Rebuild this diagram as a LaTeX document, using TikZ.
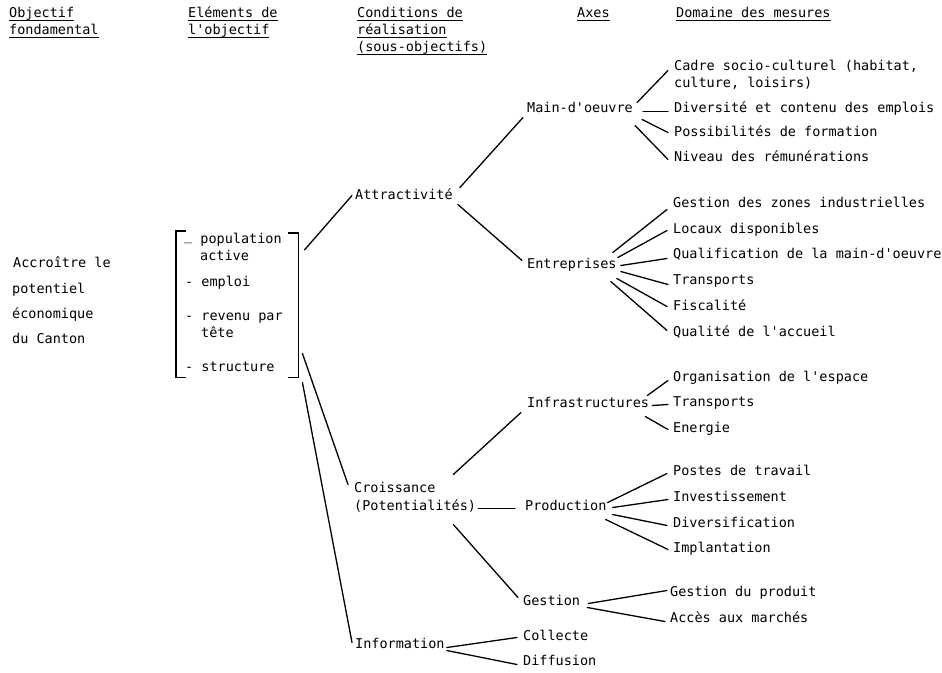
\documentclass[tikz,border=0pt]{standalone}
\usepackage{fontspec}
\setmonofont{DejaVu Sans Mono}
\usetikzlibrary{calc}
\newcommand{\ulx}[1]{\setbox0\hbox{#1}\rlap{\rule[-3.5pt]{\wd0}{1pt}}\box0}
\begin{document}
\begin{tikzpicture}[x=1pt,y=-1pt,
  txt/.style={anchor=mid west, inner sep=0pt, yshift=-2.5pt, font=\fontsize{13.5}{16}\ttfamily},
  ln/.style={line width=1.3pt, line cap=round},
  brk/.style={line width=1.3pt}]
\useasboundingbox (0,0) rectangle (942,672);
% headers
\node[txt] (h1) at (9,13) {\ulx{Objectif}};
\node[txt] (h1b) at (9,30) {\ulx{fondamental}};
\node[txt] (h2) at (188,13) {\ulx{Eléments de}};
\node[txt] (h2b) at (188,30) {\ulx{l'objectif}};
\node[txt] (h3) at (357,13) {\ulx{Conditions de}};
\node[txt] (h3b) at (357,30) {\ulx{réalisation}};
\node[txt] (h3c) at (357,47) {\ulx{(sous-objectifs)}};
\node[txt] (h4) at (577,13) {\ulx{Axes}};
\node[txt] (h5) at (676,13) {\ulx{Domaine des mesures}};
% left
\node[txt] (o1) at (13,263) {Accroître le};
\node[txt] (o2) at (12,289) {potentiel};
\node[txt] (o3) at (12,314) {économique};
\node[txt] (o4) at (12,339) {du Canton};
% bracket
\node[anchor=north west, inner sep=0pt, minimum width=122pt, minimum height=146pt] (elem) at (176,231) {};
\draw[brk] ($(elem.north west)+(10,0)$) -- (elem.north west) -- (elem.south west) -- ++(10,0);
\draw[brk] ($(elem.north east)+(-10,2)$) -- ++(10,0) -- (elem.south east) -- ++(-10,0);
\node[txt] (e1) at (184,239) {\raisebox{3pt}{\_} population};
\node[txt] (e1b) at (200,256) {active};
\node[txt] (e2) at (185,282) {- emploi};
\node[txt] (e3) at (185,316) {- revenu par};
\node[txt] (e3b) at (201,333) {tête};
\node[txt] (e4) at (185,367) {- structure};
% level 3
\node[txt] (attr) at (355,195) {Attractivité};
\node[txt] (cro) at (354,488) {Croissance};
\node[txt] (pot) at (354,506) {(Potentialités)};
\node[txt] (info) at (355,644) {Information};
% level 4
\node[txt] (mo) at (527,108) {Main-d'oeuvre};
\node[txt] (ent) at (527,264) {Entreprises};
\node[txt] (infra) at (527,403) {Infrastructures};
\node[txt] (prod) at (525,506) {Production};
\node[txt] (gest) at (523,601) {Gestion};
\node[txt] (coll) at (523,636) {Collecte};
\node[txt] (diff) at (523,661) {Diffusion};
% measures
\node[txt] (cadre) at (674,66) {Cadre socio-culturel (habitat,};
\node[txt] (cadre2) at (674,83) {culture, loisirs)};
\node[txt] (div) at (674,108) {Diversité et contenu des emplois};
\node[txt] (poss) at (674,132) {Possibilités de formation};
\node[txt] (niv) at (674,157) {Niveau des rémunérations};
\node[txt] (gz) at (673,203) {Gestion des zones industrielles};
\node[txt] (loc) at (673,229) {Locaux disponibles};
\node[txt] (qual) at (673,254) {Qualification de la main-d'oeuvre};
\node[txt] (tr1) at (673,280) {Transports};
\node[txt] (fisc) at (673,306) {Fiscalité};
\node[txt] (qacc) at (673,332) {Qualité de l'accueil};
\node[txt] (org) at (673,377) {Organisation de l'espace};
\node[txt] (tr2) at (673,402) {Transports};
\node[txt] (ener) at (673,428) {Energie};
\node[txt] (postes) at (673,471) {Postes de travail};
\node[txt] (invest) at (673,497) {Investissement};
\node[txt] (divers) at (673,523) {Diversification};
\node[txt] (impl) at (673,548) {Implantation};
\node[txt] (gprod) at (670,592) {Gestion du produit};
\node[txt] (acces) at (670,618) {Accès aux marchés};
% connectors
\draw[ln] ($(elem.north east)+(6,19)$) -- ($(attr.mid west)+(-3,-2)$);
\draw[ln] ($(elem.south east)+(4,-24)$) -- ($(cro.mid west)+(-6,-6)$);
\draw[ln] ($(elem.south east)+(4,5)$) -- ($(info.mid west)+(-3,-4)$);
\draw[ln] ($(attr.mid east)+(7,-10)$) -- ($(mo.mid west)+(-4,7)$);
\draw[ln] ($(attr.mid east)+(5,7)$) -- ($(ent.mid west)+(-5,-6)$);
\draw[ln] ($(pot.mid east)+(-23,-34)$) -- ($(infra.mid west)+(-6,7)$);
\draw[ln] ($(pot.mid east)+(2,0)$) -- ($(prod.mid west)+(-10,0)$);
\draw[ln] ($(pot.mid east)+(-23,16)$) -- ($(gest.mid west)+(-5,-6)$);
\draw[ln] ($(info.mid east)+(2,1)$) -- ($(coll.mid west)+(-6,-1)$);
\draw[ln] ($(info.mid east)+(2,4)$) -- ($(diff.mid west)+(-6,1)$);
\draw[ln] ($(mo.mid east)+(4,-8)$) -- ($(cadre.mid west)+(-6,2)$);
\draw[ln] ($(mo.mid east)+(10,1)$) -- ($(div.mid west)+(-6,1)$);
\draw[ln] ($(mo.mid east)+(9,9)$) -- ($(poss.mid west)+(-6,-2)$);
\draw[ln] ($(mo.mid east)+(2,15)$) -- ($(niv.mid west)+(-6,0)$);
\draw[ln] ($(ent.mid east)+(-4,-14)$) -- ($(gz.mid west)+(-6,4)$);
\draw[ln] ($(ent.mid east)+(1,-9)$) -- ($(loc.mid west)+(-6,-1)$);
\draw[ln] ($(ent.mid east)+(4,-1)$) -- ($(qual.mid west)+(-6,2)$);
\draw[ln] ($(ent.mid east)+(4,5)$) -- ($(tr1.mid west)+(-5,2)$);
\draw[ln] ($(ent.mid east)+(0,12)$) -- ($(fisc.mid west)+(-6,-2)$);
\draw[ln] ($(ent.mid east)+(-6,15)$) -- ($(qacc.mid west)+(-6,-4)$);
\draw[ln] ($(infra.mid east)+(-2,-10)$) -- ($(org.mid west)+(-5,1)$);
\draw[ln] ($(infra.mid east)+(3,0)$) -- ($(tr2.mid west)+(-5,0)$);
\draw[ln] ($(infra.mid east)+(-4,11)$) -- ($(ener.mid west)+(-5,-1)$);
\draw[ln] ($(prod.mid east)+(1,-6)$) -- ($(postes.mid west)+(-6,0)$);
\draw[ln] ($(prod.mid east)+(6,-1)$) -- ($(invest.mid west)+(-5,0)$);
\draw[ln] ($(prod.mid east)+(6,6)$) -- ($(divers.mid west)+(-6,0)$);
\draw[ln] ($(prod.mid east)+(-1,11)$) -- ($(impl.mid west)+(-5,-1)$);
\draw[ln] ($(gest.mid east)+(8,0)$) -- ($(gprod.mid west)+(-3,-4)$);
\draw[ln] ($(gest.mid east)+(7,4)$) -- ($(acces.mid west)+(-5,1)$);
\end{tikzpicture}
\end{document}
